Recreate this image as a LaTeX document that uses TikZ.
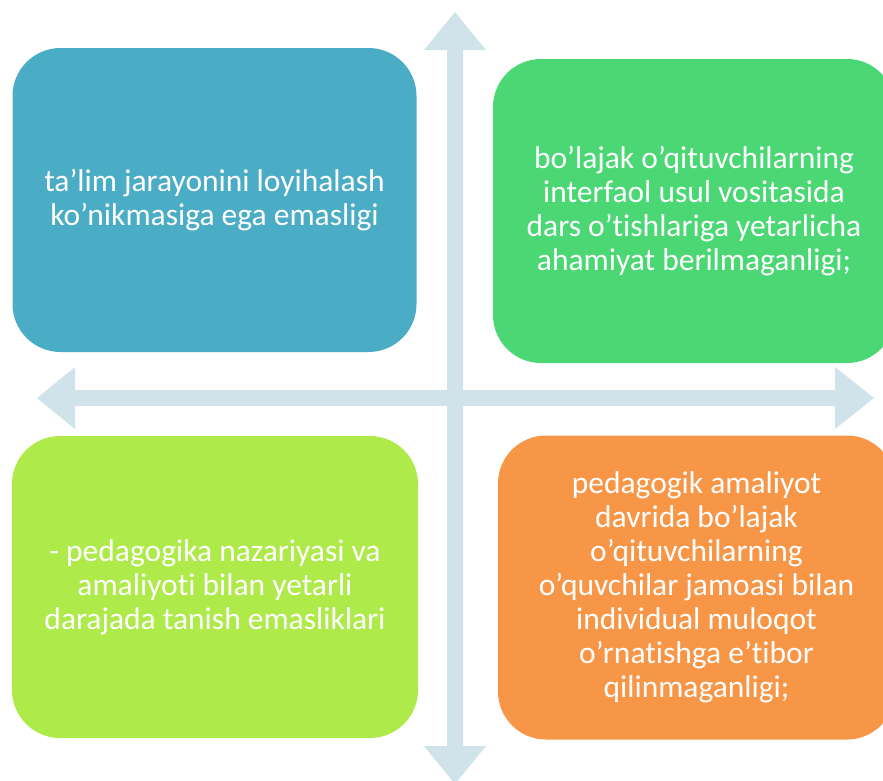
\documentclass[tikz,border=0pt]{standalone}
\usepackage{fontspec}
\setmainfont[Ligatures=NoCommon]{Carlito}
\definecolor{boxblue}{HTML}{4BACC6}
\definecolor{boxgreen}{HTML}{4AD774}
\definecolor{boxlime}{HTML}{AEEA4A}
\definecolor{boxorange}{HTML}{F79646}
\definecolor{crossblue}{HTML}{D0E2EA}

\begin{document}
\begin{tikzpicture}[x=1pt,y=-1pt,
	every node/.style={inner sep=0pt},
	quadrant/.style={rounded corners=48pt,minimum width=404pt,minimum height=304pt,text=white,align=center,
		font=\fontsize{31.5}{34}\selectfont},
	crossarrow/.style={fill=crossblue}
	]
\useasboundingbox (0,0) rectangle (883,780);

% the cross
\fill[crossarrow] (455,12) -- (486,50) -- (463,50) -- (463,746) -- (486,746) -- (455,784) -- (424,746) -- (447,746) -- (447,50) -- (424,50) -- cycle;
\fill[crossarrow] (37,398) -- (75,367) -- (75,390) -- (835,390) -- (835,367) -- (874,398) -- (835,429) -- (835,406) -- (75,406) -- (75,429) -- cycle;

% the four boxes
\node[quadrant,fill=boxblue] (design) at (214.5,200) {ta’lim jarayonini loyihalash\\ko’nikmasiga ega emasligi};
\node[quadrant,fill=boxgreen,minimum width=402pt] (interactive) at (694,211) {bo’lajak o’qituvchilarning\\interfaol usul vositasida\\dars o’tishlariga yetarlicha\\ahamiyat berilmaganligi;};
\node[quadrant,fill=boxlime,minimum width=406pt,minimum height=302pt] (theory) at (215,587) {- pedagogika nazariyasi va\\amaliyoti bilan yetarli\\darajada tanish emasliklari};
\node[quadrant,fill=boxorange,minimum width=397pt] (practice) at (696.5,587.5) {pedagogik amaliyot\\davrida bo’lajak\\o’qituvchilarning\\o’quvchilar jamoasi bilan\\individual muloqot\\o’rnatishga e’tibor\\qilinmaganligi;};

\end{tikzpicture}
\end{document}
